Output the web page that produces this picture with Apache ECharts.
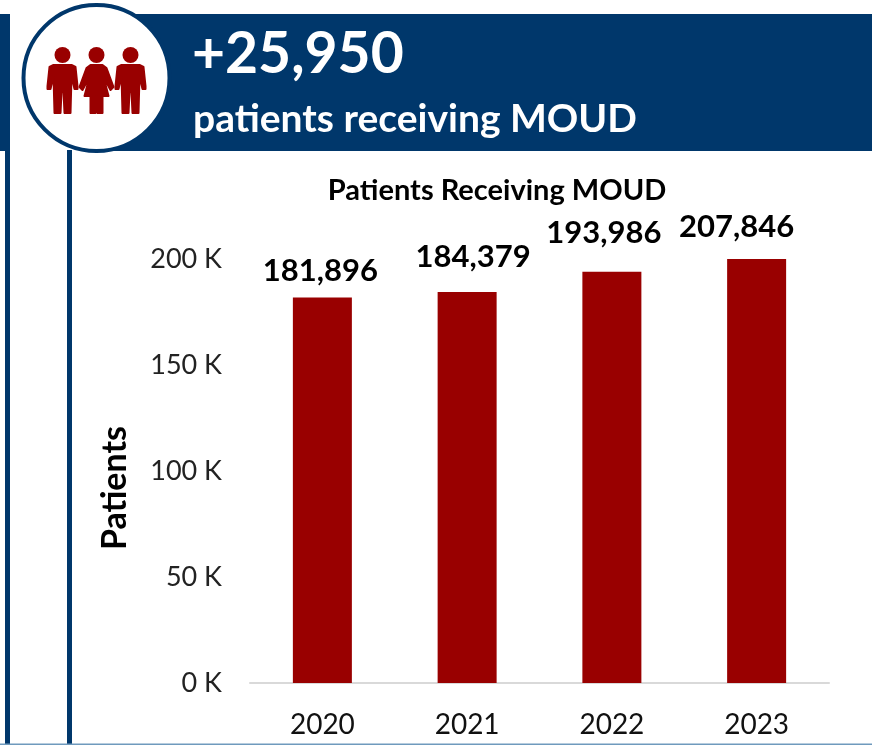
<!DOCTYPE html>
<html>
<head>
<meta charset="utf-8">
<style>
  html, body { margin: 0; padding: 0; background: #fff; }
  #main { width: 872px; height: 745px; }
</style>
<script src="https://cdn.jsdelivr.net/npm/echarts@6/dist/echarts.min.js"></script>
</head>
<body>
<div id="main"></div>
<script>
var years = ['2020', '2021', '2022', '2023'];
var patients = [181896, 184379, 193986, 207846];
var yTicks = ['0 K', '50 K', '100 K', '150 K', '200 K'];

// the labels were dragged around by hand in the original
var labelShift = [[-2, -6], [6, -15], [-8, -18], [-20, -12]];

var navy = '#00376b';
var red = '#990000';
var font = 'Lato';

// people icon: x is the middle of the figure, head top at y = 0
var manOutline = [[-9, 17], [9, 17], [13, 19], [15, 38], [15, 41], [12, 41], [9, 28], [8, 65], [2, 65], [1, 44], [-1, 44], [-2, 65], [-8, 65], [-9, 28], [-12, 41], [-15, 41], [-15, 38], [-13, 19]];
var womanOutline = [[-6, 17], [6, 17], [10, 20], [17, 39], [14, 42], [7, 29], [12, 48], [6, 48], [6, 65], [1, 65], [1, 48], [-1, 48], [-1, 65], [-6, 65], [-6, 48], [-12, 48], [-7, 29], [-14, 42], [-17, 39], [-10, 20]];

function person(x, outline) {
  return [
    { type: 'circle', x: x, shape: { cx: 0, cy: 7, r: 8 }, style: { fill: red } },
    { type: 'polygon', x: x, shape: { points: outline }, style: { fill: red, stroke: red, lineWidth: 2, lineJoin: 'round' } }
  ];
}

var chart = echarts.init(document.getElementById('main'));
chart.setOption({
  animation: false,
  backgroundColor: '#fff',
  title: {
    text: 'Patients Receiving MOUD',
    left: 492, top: 171, textAlign: 'center',
    textStyle: { fontFamily: font, fontSize: 29, fontWeight: 700, color: '#000' }
  },
  grid: { left: 250, right: 43, top: 259, bottom: 62 },
  xAxis: {
    type: 'category',
    data: years,
    axisTick: { show: false },
    axisLine: { lineStyle: { color: '#d9d9d9', width: 2 } },
    axisLabel: { fontFamily: font, fontSize: 28, color: '#111', margin: 28 }
  },
  yAxis: {
    type: 'value',
    min: 0,
    max: 200000,
    interval: 50000,
    name: 'Patients',
    nameLocation: 'middle',
    nameGap: 118,
    nameTextStyle: { fontFamily: font, fontSize: 34, fontWeight: 700, color: '#000', padding: [0, 34, 0, 0] },
    splitLine: { show: false },
    axisLine: { show: false },
    axisTick: { show: false },
    axisLabel: {
      fontFamily: font, fontSize: 27, color: '#222', margin: 28,
      formatter: function (v) { return yTicks[v / 50000]; }
    }
  },
  series: [{
    type: 'bar',
    barWidth: 59,
    itemStyle: { color: red },
    data: patients.map(function (v, i) {
      return { value: v, label: { offset: labelShift[i] } };
    }),
    label: {
      show: true,
      position: 'top',
      fontFamily: font, fontSize: 31, fontWeight: 700, color: '#000',
      formatter: function (p) { return p.value.toLocaleString('en-US'); }
    }
  }],
  graphic: [
    { type: 'rect', shape: { x: 0, y: 14, width: 10, height: 137 }, style: { fill: navy } },
    { type: 'rect', shape: { x: 5, y: 151, width: 5, height: 594 }, style: { fill: navy } },
    { type: 'rect', shape: { x: 67, y: 150, width: 5, height: 595 }, style: { fill: navy } },
    { type: 'rect', shape: { x: 0, y: 743.5, width: 872, height: 1.5 }, style: { fill: '#6f9abd' } },
    { type: 'rect', shape: { x: 100, y: 14, width: 772, height: 137 }, style: { fill: navy } },
    { type: 'circle', shape: { cx: 96.5, cy: 78, r: 73 }, style: { fill: '#fff', stroke: navy, lineWidth: 4 } },
    { type: 'group', x: 0, y: 48, children: [].concat(person(62.5, manOutline), person(96.5, womanOutline), person(130.5, manOutline)) },
    { type: 'text', x: 192, y: 55, style: {
        text: '+25,950', fill: '#fff', font: '700 57px Lato', verticalAlign: 'middle'
      } },
    { type: 'text', x: 193, y: 119, style: {
        text: 'patients receiving MOUD', fill: '#fff', font: '700 39px Lato', verticalAlign: 'middle'
      } }
  ]
});
</script>
</body>
</html>
